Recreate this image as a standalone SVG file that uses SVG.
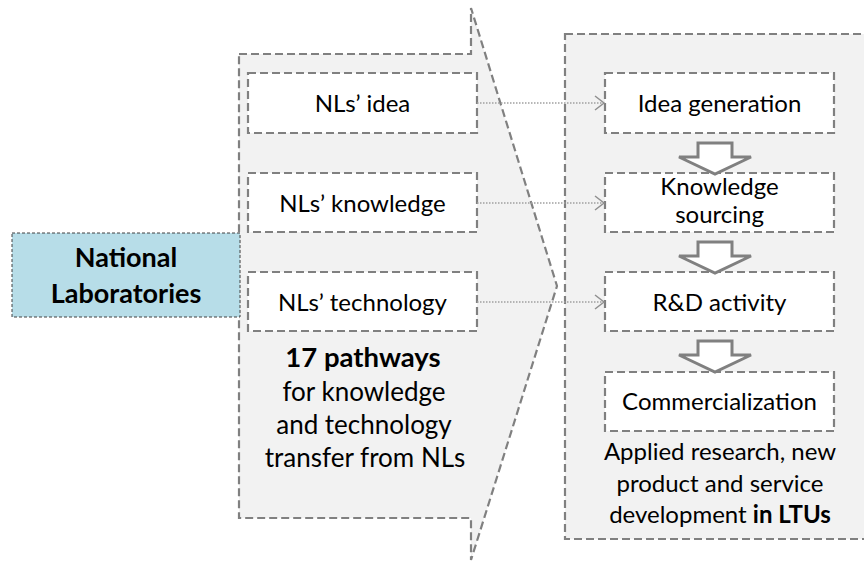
<svg xmlns="http://www.w3.org/2000/svg" width="864" height="564" viewBox="0 0 864 564">
<style>
.dash{stroke:#808080;stroke-width:2.2;stroke-dasharray:8,4;}
.box{fill:#ffffff;}
.t{font-family:Lato,"Liberation Sans",sans-serif;font-size:24px;fill:#000;text-anchor:middle;}
.big{font-size:26px;}
.bigb{font-size:27.5px;font-weight:bold;}
.nl{font-size:27px;}
.b{font-weight:bold;}
.conn{stroke:#a0a0a0;stroke-width:1.5;stroke-dasharray:1.5,1.5;fill:none;}
.blk{fill:#ffffff;stroke:#808080;stroke-width:3;}
</style>
<defs>
<marker id="ah" markerUnits="userSpaceOnUse" markerWidth="14" markerHeight="16" refX="11" refY="8" orient="auto">
<path d="M2,1 L11,8 L2,15" fill="none" stroke="#909090" stroke-width="1.5"/>
</marker>
</defs>
<g id="pathways-arrow">
<polygon class="dash" points="239,54 471,54 471,8 557,286 471,560 471,518 239,518" fill="#f2f2f2"/>
<text class="t bigb" x="363" y="367">17 pathways</text>
<text class="t big" x="364" y="401">for knowledge</text>
<text class="t big" x="364" y="434">and technology</text>
<text class="t big" x="365" y="467">transfer from NLs</text>
</g>
<g id="ltu-container">
<rect class="dash" x="565" y="34" width="302" height="505" fill="#f2f2f2"/>
<text class="t" x="720" y="460">Applied research, new</text>
<text class="t" x="720" y="492">product and service</text>
<text class="t" x="720" y="523">development <tspan class="b">in LTUs</tspan></text>
</g>
<g id="national-laboratories">
<rect x="12" y="233" width="228" height="84" fill="#b7dde8" stroke="#404040" stroke-width="1" stroke-dasharray="3,2"/>
<text class="t b nl" x="126" y="267">National</text>
<text class="t b nl" x="126" y="303">Laboratories</text>
</g>
<g id="nls-idea">
<rect class="box dash" x="248" y="73" width="229" height="60"/>
<text class="t" x="362.5" y="112">NLs’ idea</text>
</g>
<g id="nls-knowledge">
<rect class="box dash" x="248" y="173" width="229" height="59"/>
<text class="t" x="362.5" y="212">NLs’ knowledge</text>
</g>
<g id="nls-technology">
<rect class="box dash" x="248" y="272" width="229" height="59"/>
<text class="t" x="362.5" y="311">NLs’ technology</text>
</g>
<g id="idea-generation">
<rect class="box dash" x="605" y="73" width="229" height="60"/>
<text class="t" x="719.5" y="112">Idea generation</text>
</g>
<g id="knowledge-sourcing">
<rect class="box dash" x="605" y="173" width="229" height="59"/>
<text class="t" x="719.5" y="195">Knowledge</text>
<text class="t" x="719.5" y="223">sourcing</text>
</g>
<g id="rd-activity">
<rect class="box dash" x="605" y="272" width="229" height="59"/>
<text class="t" x="719.5" y="311">R&amp;D activity</text>
</g>
<g id="commercialization">
<rect class="box dash" x="605" y="372" width="229" height="59"/>
<text class="t" x="719.5" y="410">Commercialization</text>
</g>
<g id="connectors">
<line class="conn" x1="477" y1="103" x2="604" y2="103" marker-end="url(#ah)"/>
<line class="conn" x1="477" y1="203" x2="604" y2="203" marker-end="url(#ah)"/>
<line class="conn" x1="477" y1="302" x2="604" y2="302" marker-end="url(#ah)"/>
<path class="blk" d="M698,143 L732,143 L732,157 L751,157 L715,174 L679,157 L698,157 Z"/>
<path class="blk" d="M698,242 L732,242 L732,256 L751,256 L715,273 L679,256 L698,256 Z"/>
<path class="blk" d="M698,341 L732,341 L732,355 L751,355 L715,372 L679,355 L698,355 Z"/>
</g>
</svg>
